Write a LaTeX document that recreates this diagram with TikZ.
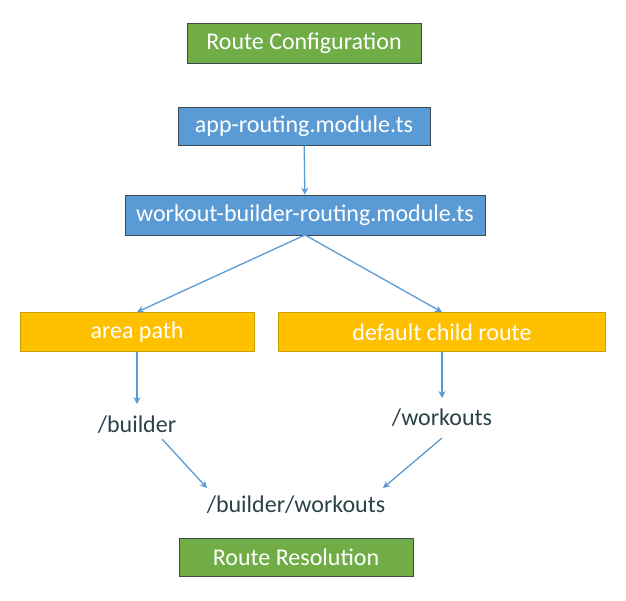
\documentclass[tikz,border=0pt]{standalone}
\usepackage{fontspec}
\setmainfont{Carlito}
\usetikzlibrary{arrows.meta}
\definecolor{cgreen}{HTML}{70AD47}
\definecolor{cblue}{HTML}{5B9BD5}
\definecolor{cgold}{HTML}{FFC000}
\definecolor{cdark}{HTML}{3A4A50}
\definecolor{ctext}{HTML}{2A4248}
\definecolor{cgoldline}{HTML}{C9A000}
\tikzset{
  box/.style={draw=cdark, line width=0.8pt, text=white, font=\fontsize{24}{28}\selectfont, inner sep=0pt, anchor=center},
  greenbox/.style={box, fill=cgreen},
  bluebox/.style={box, fill=cblue},
  goldbox/.style={box, fill=cgold, draw=cgoldline},
  plain/.style={text=ctext, font=\fontsize{24}{28}\selectfont, inner sep=1pt},
  arr/.style={draw=cblue, line width=1.3pt, -{Stealth[length=7pt,width=7pt]}}
}
\begin{document}
\begin{tikzpicture}[x=1pt,y=-1pt]
\useasboundingbox (0,0) rectangle (626,600);
\fill[white] (0,0) rectangle (626,600);
\node[greenbox, minimum width=234pt, minimum height=40pt] (conf) at (304,43) {Route Configuration};
\node[bluebox, minimum width=252pt, minimum height=38pt] (app) at (304,126) {app-routing.module.ts};
\node[bluebox, minimum width=360pt, minimum height=40pt] (wb) at (305,215) {workout-builder-routing.module.ts};
\node[goldbox, minimum width=234pt, minimum height=39pt] (area) at (137,332) {area path};
\node[goldbox, minimum width=327pt, minimum height=39pt] (def) at (442,332) {default child route};
\node[plain] (builder) at (137,425) {/builder};
\node[plain] (workouts) at (442,418) {/workouts};
\node[plain] (bw) at (296,505) {/builder/workouts};
\node[greenbox, minimum width=234pt, minimum height=38pt] (res) at (296,557) {Route Resolution};
\coordinate (wbb) at (305,235);
\draw[arr] (app) -- (wb);
\draw[arr] (wbb) -- (area.north);
\draw[arr] (wbb) -- (def.north);
\draw[arr] (area) -- (137,404);
\draw[arr] (def) -- (442,398);
\draw[arr] (162,439) -- (207,488);
\draw[arr] (442,438) -- (383,488);
\end{tikzpicture}
\end{document}
